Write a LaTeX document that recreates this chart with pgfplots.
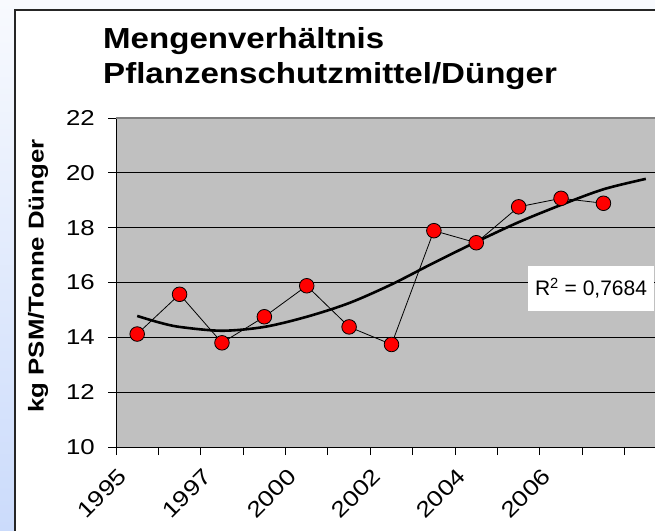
\documentclass[border=0pt]{standalone}
\usepackage{fontspec}
\setmainfont{Liberation Sans}
\newfontfamily\wide{Liberation Sans}[FakeStretch=1.2]
\newfontfamily\widet{Liberation Sans}[FakeStretch=1.14]
\usepackage{pgfplots}
\pgfplotsset{compat=1.18}
\definecolor{plotgray}{HTML}{C0C0C0}
\definecolor{bgtop}{HTML}{F8FAFE}
\definecolor{bgbot}{HTML}{CBDBFB}
\begin{document}
\begin{tikzpicture}
\useasboundingbox (0pt,0pt) rectangle (655pt,530pt);
\clip (0pt,0pt) rectangle (655pt,530pt);
\shade[top color=bgtop, bottom color=bgbot] (0pt,0pt) rectangle (655pt,530pt);
\draw[fill=white, draw=black!85, line width=1.3pt] (15pt,-20pt) rectangle (700pt,520pt);
\node[anchor=base west, inner sep=0pt, font=\widet\bfseries\fontsize{29}{35}\selectfont] at (103pt,481.7pt) {Mengenverhältnis};
\node[anchor=base west, inner sep=0pt, font=\widet\bfseries\fontsize{29}{35}\selectfont] at (103pt,446.7pt) {Pflanzenschutzmittel/Dünger};
\begin{axis}[
  at={(116pt,83pt)}, anchor=south west,
  scale only axis, width=551pt, height=329pt,
  xmin=0.5, xmax=13.5, ymin=10, ymax=22,
  /pgf/number format/assume math mode=true,
  axis background/.style={fill=plotgray},
  axis x line*=bottom, axis y line*=left,
  axis line style={black, line width=1pt, -},
  xtick={0.5,1.5,...,13.5}, x tick label as interval,
  xticklabels={1995,,1997,,2000,,2002,,2004,,2006,,},
  ytick={10,12,...,22},
  ymajorgrids, major grid style={black, line width=0.9pt},
  tick align=outside, major tick length=8pt,
  tick style={black, line width=0.9pt},
  xticklabel style={font=\wide\fontsize{22}{26}\selectfont, xshift=-20pt, yshift=-12pt, rotate=45, anchor=north east, inner sep=0pt},
  yticklabel style={font=\wide\fontsize{21.5}{25}\selectfont, anchor=east, inner sep=0pt, xshift=-13pt},
]
\addplot[black, line width=0.8pt, mark=*, mark size=7.3pt, mark options={fill=red, draw=black, line width=0.8pt}] coordinates {
(1,14.12)(2,15.57)(3,13.80)(4,14.75)(5,15.88)(6,14.38)(7,13.74)(8,17.89)(9,17.45)(10,18.76)(11,19.07)(12,18.89)};
\addplot[black, line width=2.6pt, smooth] coordinates {
(1,14.78)(1.5,14.55)(2,14.38)(3,14.24)(4,14.38)(5,14.75)(6,15.25)(7,15.93)(8,16.72)(9,17.48)(10,18.20)(11,18.83)(12,19.40)(13,19.78)};
\draw[gray, line width=1.2pt] (rel axis cs:0,1) -- (rel axis cs:1,1);
\end{axis}
\node[rotate=90, font=\wide\bfseries\fontsize{21.5}{26}\selectfont] at (38pt,254pt) {kg PSM/Tonne Dünger};
\node[fill=white, inner sep=0pt, minimum width=126pt, minimum height=45pt, font=\fontsize{21}{25}\selectfont] at (591pt,241.8pt) {R\textsuperscript{2} = 0,7684};
\end{tikzpicture}
\end{document}
